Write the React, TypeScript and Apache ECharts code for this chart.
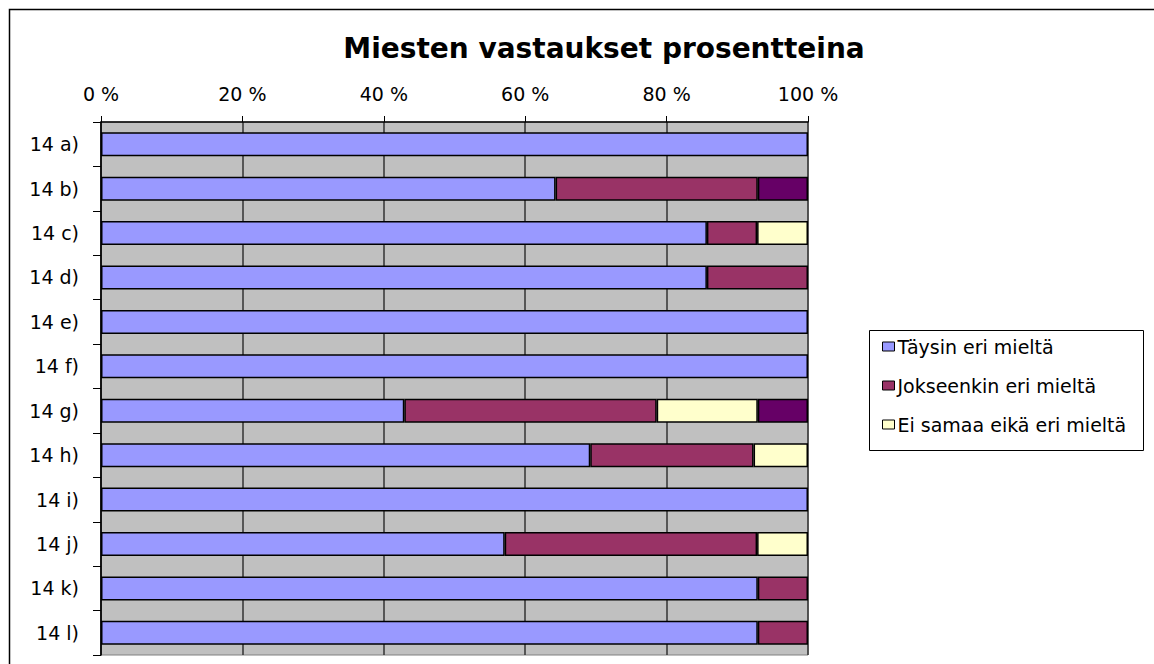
import React, { useEffect, useRef } from "react";
import * as echarts from "echarts";

const title = "Miesten vastaukset prosentteina";
const categories = ["14 a)", "14 b)", "14 c)", "14 d)", "14 e)", "14 f)", "14 g)", "14 h)", "14 i)", "14 j)", "14 k)", "14 l)"];
const seriesNames = ["Täysin eri mieltä", "Jokseenkin eri mieltä", "Ei samaa eikä eri mieltä", "Jokseenkin samaa mieltä"];
const legendNames = ["Täysin eri mieltä", "Jokseenkin eri mieltä", "Ei samaa eikä eri mieltä"];
const taysinEri = [100, 64.3, 85.7, 85.7, 100, 100, 42.9, 69.2, 100, 57.1, 92.9, 92.9];
const jokseenkinEri = [0, 28.6, 7.1, 14.3, 0, 0, 35.7, 23.1, 0, 35.7, 7.1, 7.1];
const eiSamaaEikaEri = [0, 0, 7.2, 0, 0, 0, 14.3, 7.7, 0, 7.2, 0, 0];
const jokseenkinSamaa = [0, 7.1, 0, 0, 0, 0, 7.1, 0, 0, 0, 0, 0];
const xTicks = [0, 20, 40, 60, 80, 100];
const colors = ["#9999FF", "#993366", "#FFFFCC", "#660066"];

const FONT = "DejaVu Sans";

export default function App() {
  const ref = useRef<HTMLDivElement>(null);
  useEffect(() => {
    if (!ref.current) return;
    const chart = echarts.init(ref.current, null, { renderer: "svg" });
    const allData = [taysinEri, jokseenkinEri, eiSamaaEikaEri, jokseenkinSamaa];
    const series = allData.map((arr, i) => ({
      name: seriesNames[i],
      type: "bar",
      stack: "total",
      barWidth: 24,
      data: arr.map((v) => (v === 0 ? "-" : v)),
      itemStyle: { color: colors[i], borderColor: "#000", borderWidth: 1.5 },
      emphasis: { disabled: true },
    }));
    chart.setOption({
      animation: false,
      backgroundColor: "#fff",
      title: {
        text: title,
        left: 599,
        top: 29,
        textAlign: "center",
        textStyle: { fontFamily: FONT, fontSize: 28, fontWeight: "bold", color: "#000" },
      },
      grid: {
        left: 101,
        right: 346,
        top: 122,
        bottom: 9,
        show: true,
        backgroundColor: "#C0C0C0",
        borderColor: "#808080",
        borderWidth: 1,
      },
      legend: {
        data: legendNames,
        orient: "vertical",
        left: 877,
        top: 331,
        itemWidth: 12,
        itemHeight: 9,
        itemGap: 18,
        icon: "rect",
        selectedMode: false,
        itemStyle: { borderColor: "#000", borderWidth: 1 },
        textStyle: { fontFamily: FONT, fontSize: 19, color: "#000", lineHeight: 21, padding: [0, 0, 0, -2] },
      },
      xAxis: {
        type: "value",
        position: "top",
        min: xTicks[0],
        max: xTicks[xTicks.length - 1],
        interval: 20,
        axisLine: { show: true, lineStyle: { color: "#000", width: 1.5 } },
        axisTick: { show: true, length: 6, lineStyle: { color: "#000", width: 1 } },
        axisLabel: {
          formatter: "{value} %",
          margin: 19,
          fontFamily: FONT,
          fontSize: 19,
          color: "#000",
        },
        splitLine: { show: true, lineStyle: { color: "#333", width: 1.5 } },
      },
      yAxis: {
        type: "category",
        inverse: true,
        data: categories,
        axisLine: { show: true, lineStyle: { color: "#000", width: 1.5 } },
        axisTick: { show: true, length: 8, lineStyle: { color: "#000", width: 1 } },
        axisLabel: { margin: 22, fontFamily: FONT, fontSize: 19, color: "#000" },
        splitLine: { show: false },
      },
      graphic: [
        {
          type: "rect",
          shape: { x: 9.5, y: 9.5, width: 1300, height: 800 },
          style: { fill: "none", stroke: "#000", lineWidth: 1.5 },
          silent: true,
        },
        {
          type: "rect",
          shape: { x: 869.5, y: 330.5, width: 274, height: 120 },
          style: { fill: "none", stroke: "#000", lineWidth: 1 },
          silent: true,
        },
      ],
      series,
    });
    return () => chart.dispose();
  }, []);
  return (
    <div
      ref={ref}
      style={{ position: "fixed", left: 0, top: 0, width: 1154, height: 664, background: "#fff" }}
    />
  );
}
